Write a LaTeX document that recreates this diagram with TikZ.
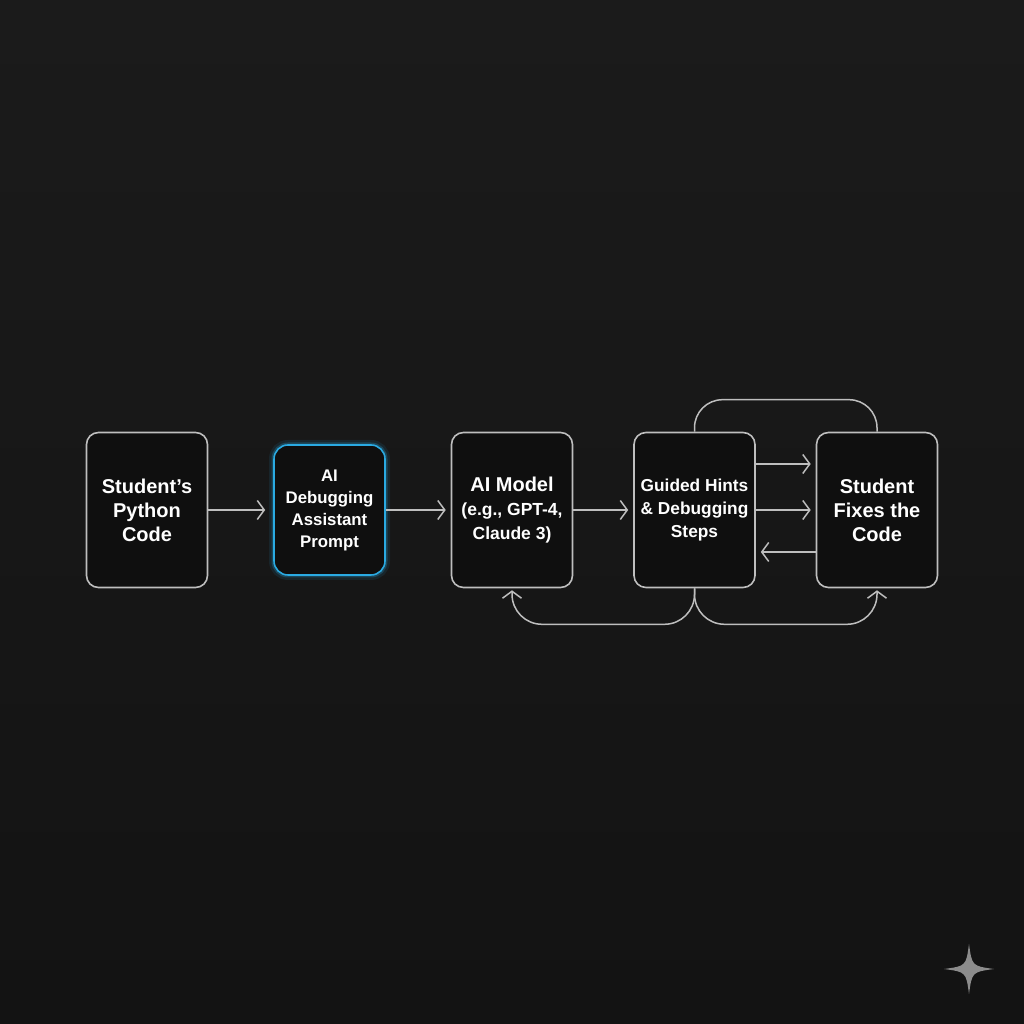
\documentclass[tikz,border=0pt]{standalone}
\usepackage{fontspec}
\setmainfont{Liberation Sans}
\usepackage{tikz}
\usetikzlibrary{arrows.meta}
\usetikzlibrary{positioning}
\definecolor{fondoarriba}{HTML}{1B1B1B}
\definecolor{fondoabajo}{HTML}{131313}
\definecolor{relleno}{HTML}{0F0F0F}
\definecolor{gris}{HTML}{BEBEBE}
\definecolor{azul}{HTML}{2AAAE2}
\definecolor{marca}{HTML}{8C8C8C}
\tikzset{
  enlace/.style={
    draw=gris, line width=1.5pt,
    -{Straight Barb[length=7pt,width=19pt,line width=1.5pt]},
    shorten >=5pt
  }
}

\begin{document}
\begin{tikzpicture}[x=1pt, y=1pt, node distance=182.5pt] % Estilos de bloques
\tikzstyle{bloque} = [rectangle, draw=gris, line width=1.6pt, rounded corners=12pt, fill=relleno, text=white, align=center, minimum width=121pt, minimum height=155pt, font=\bfseries\fontsize{20}{24}\selectfont] \tikzstyle{brillo} = [draw=azul, rounded corners=14pt, minimum width=111pt, minimum height=130pt, font=\bfseries\fontsize{16.8}{22}\selectfont, preaction={draw=azul, line width=10pt, opacity=0.10}, preaction={draw=azul, line width=5pt, opacity=0.25}] % Fondo
\shade[top color=fondoarriba, bottom color=fondoabajo] (0,0) rectangle (1024,1024); \useasboundingbox (0,0) rectangle (1024,1024);
% Bloques del flujo
\node (b1) [bloque] at (147,514) {Student{\char"0027}s\\ Python\\ Code}; \node (b2) [bloque, brillo, right of=b1] {AI\\ Debugging\\ Assistant\\ Prompt}; \node (b3) [bloque, right of=b2] {AI Model\\ {\fontsize{17.5}{23}\selectfont (e.g., GPT-4,}\\ {\fontsize{17.5}{23}\selectfont Claude 3)}}; \node (b4) [bloque, right of=b3, font=\bfseries\fontsize{17.3}{23}\selectfont] {Guided Hints\\ \& Debugging\\ Steps}; \node (b5) [bloque, right of=b4] {Student\\ Fixes the\\ Code};
% Flechas principales
\draw[enlace, shorten >=8pt] (b1) -- (b2); \foreach \a/\b in {b2/b3, b3/b4, b4/b5} { \draw[enlace] (\a) -- (\b); }
\draw[enlace] ([yshift=46pt]b4.east) -- ([yshift=46pt]b5.west); \draw[enlace] ([yshift=-42pt]b5.west) -- ([yshift=-42pt]b4.east);
% Lazos de retorno
\draw[draw=gris, line width=1.5pt, rounded corners=28pt] (b4.north) -- ++(0,32) -| (b5.north);
\draw[enlace, shorten >=2pt, rounded corners=30pt] (b4.south) -- ++(0,-36) -| (b3.south); \draw[enlace, shorten >=2pt, rounded corners=30pt] (b4.south) -- ++(0,-36) -| (b5.south);
% Marca
\fill[marca] (969,80) .. controls (972,58) .. (994,55) .. controls (972,52) .. (969,30) .. controls (966,52) .. (944,55) .. controls (966,58) .. (969,80) -- cycle;
\end{tikzpicture}
\end{document}
